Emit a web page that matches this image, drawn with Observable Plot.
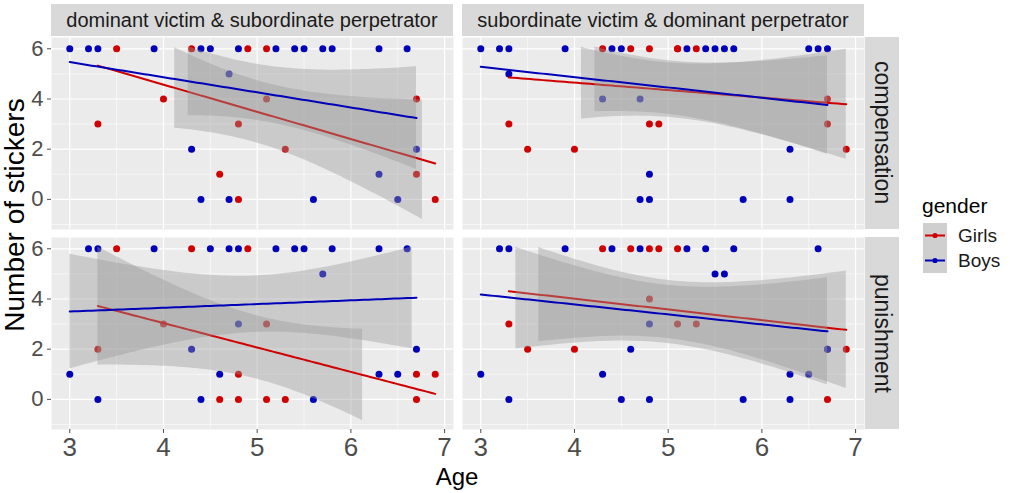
<!DOCTYPE html>
<html><head><meta charset="utf-8">
<script src="https://cdn.jsdelivr.net/npm/d3@7"></script>
<script src="https://cdn.jsdelivr.net/npm/@observablehq/plot@0.6"></script>
<style>
body{margin:0;background:#fff;font-family:"Liberation Sans",Arial,sans-serif;}
#chart{position:relative;width:1011px;height:493px;overflow:hidden;background:#fff;}
.strip{position:absolute;background:#D9D9D9;color:#1A1A1A;display:flex;align-items:center;justify-content:center;white-space:nowrap;}
.vstrip{writing-mode:vertical-rl;}
.title{position:absolute;white-space:nowrap;color:#000;transform:translate(-50%,-50%);}
</style></head><body><div id="chart"></div>
<script>
// ---- facet labels / legend ----
const colFacets = ["dominant victim & subordinate perpetrator", "subordinate victim & dominant perpetrator"];
const rowFacets = ["compensation", "punishment"];
const genders = ["Girls", "Boys"];
const genderColors = ["#D00000", "#0000B8"];
const xTicks = [3, 4, 5, 6, 7];
const yTicks = [0, 2, 4, 6];

// ---- data (age, number of stickers) ----
// dominant victim & subordinate perpetrator / compensation
const dvCompGirlsAge = [3.5,4.3,4.9,5.1,4.0,5.1,6.7,3.3,4.8,5.3,4.6,6.7,4.8,6.9];
const dvCompGirlsStickers = [6,6,6,6,4,4,4,3,3,2,1,1,0,0];
const dvCompBoysAge = [3.0,3.2,3.3,3.9,4.4,4.5,4.8,5.2,5.4,5.5,5.7,5.8,6.3,6.6,4.7,4.3,6.7,6.3,4.4,4.7,5.6,6.5];
const dvCompBoysStickers = [6,6,6,6,6,6,6,6,6,6,6,6,6,6,5,2,2,1,0,0,0,0];
// subordinate victim & dominant perpetrator / compensation
const svCompGirlsAge = [4.3,4.6,4.8,5.1,5.1,5.3,6.7,3.3,4.8,4.9,6.7,3.5,4.0,6.9];
const svCompGirlsStickers = [6,6,6,6,6,6,4,3,3,3,3,2,2,2];
const svCompBoysAge = [3.0,3.2,3.3,3.9,4.4,4.5,5.2,5.4,5.5,5.6,5.7,6.5,6.6,6.7,3.3,4.3,4.7,6.3,4.8,4.7,4.8,5.8,6.3];
const svCompBoysStickers = [6,6,6,6,6,6,6,6,6,6,6,6,6,6,5,4,4,2,1,0,0,0,0];
// dominant victim & subordinate perpetrator / punishment
const dvPunGirlsAge = [3.5,4.3,4.9,4.0,5.1,3.3,4.8,6.7,6.9,4.6,4.8,5.1,5.3,6.7];
const dvPunGirlsStickers = [6,6,6,3,3,2,1,1,1,0,0,0,0,0];
const dvPunBoysAge = [3.2,3.3,3.9,4.5,4.7,4.8,5.2,5.4,5.5,5.8,6.3,6.6,5.7,4.8,4.3,6.7,3.0,4.6,6.3,6.5,3.3,4.4,5.6];
const dvPunBoysStickers = [6,6,6,6,6,6,6,6,6,6,6,6,5,3,2,2,1,1,1,1,0,0,0];
// subordinate victim & dominant perpetrator / punishment
const svPunGirlsAge = [4.3,4.6,4.8,4.9,5.1,4.8,3.3,5.1,5.3,3.5,4.0,6.7,6.9,6.7];
const svPunGirlsStickers = [6,6,6,6,6,4,3,3,3,2,2,2,2,0];
const svPunBoysAge = [3.2,3.3,3.9,4.4,4.7,5.2,5.4,5.7,6.6,5.5,5.6,4.8,4.6,3.0,4.3,6.3,6.5,6.7,3.3,4.5,4.8,5.8,6.3];
const svPunBoysStickers = [6,6,6,6,6,6,6,6,6,5,5,3,2,1,1,1,1,2,0,0,0,0,0];

// ---- fitted lines as drawn (value at youngest and oldest age of each group) ----
const dvCompGirlsFit = [5.33, 1.43];
const dvCompBoysFit  = [5.47, 3.24];
const svCompGirlsFit = [4.86, 3.79];
const svCompBoysFit  = [5.28, 3.76];
const dvPunGirlsFit  = [3.72, 0.22];
const dvPunBoysFit   = [3.50, 4.05];
const svPunGirlsFit  = [4.31, 2.77];
const svPunBoysFit   = [4.18, 2.71];

const panelData = [
  {row:0, col:0, girls:[dvCompGirlsAge, dvCompGirlsStickers, dvCompGirlsFit], boys:[dvCompBoysAge, dvCompBoysStickers, dvCompBoysFit]},
  {row:0, col:1, girls:[svCompGirlsAge, svCompGirlsStickers, svCompGirlsFit], boys:[svCompBoysAge, svCompBoysStickers, svCompBoysFit]},
  {row:1, col:0, girls:[dvPunGirlsAge, dvPunGirlsStickers, dvPunGirlsFit], boys:[dvPunBoysAge, dvPunBoysStickers, dvPunBoysFit]},
  {row:1, col:1, girls:[svPunGirlsAge, svPunGirlsStickers, svPunGirlsFit], boys:[svPunBoysAge, svPunBoysStickers, svPunBoysFit]}
];

// ---- layout ----
const PX = [51, 462], PW = 402, PY = [37, 237], PH = 192;
const ML = 60, MB = 60;
const xDomain = [2.805, 7.095], yDomain = [-1.2, 6.45];
const HI = 6.1, LO = -0.85; // ribbon rows outside the y limits are dropped

function qt975(df) {
  const z = 1.959964, z3 = z**3, z5 = z**5, z7 = z**7;
  return z + (z3 + z) / (4*df) + (5*z5 + 16*z3 + 3*z) / (96*df*df)
    + (3*z7 + 19*z5 + 17*z3 - 15*z) / (384*df**3);
}
// straight fitted line with its 95% confidence ribbon (standard error from the points around that line)
function smooth(ages, vals, fit, gender) {
  const n = ages.length, mx = d3.mean(ages);
  const [x0, x1] = d3.extent(ages);
  const slope = (fit[1] - fit[0]) / (x1 - x0);
  const line = x => fit[0] + slope * (x - x0);
  let sxx = 0, sse = 0;
  for (let i = 0; i < n; i++) { sxx += (ages[i]-mx)**2; sse += (vals[i] - line(ages[i]))**2; }
  const s = Math.sqrt(sse / (n-2)), t = qt975(n-2);
  return d3.range(80).map(i => {
    const x = x0 + (x1-x0)*i/79, y = line(x);
    const se = s*Math.sqrt(1/n + (x-mx)**2/sxx);
    let lo = y - t*se, hi = y + t*se;
    if (hi > HI || lo < LO) { lo = NaN; hi = NaN; }
    return {x, y, lo, hi, gender};
  });
}

const chart = document.getElementById("chart");

for (const p of panelData) {
  const pts = [];
  genders.forEach((g, gi) => {
    const [ages, vals] = gi === 0 ? p.girls : p.boys;
    ages.forEach((a, i) => pts.push({age: a, stickers: vals[i], gender: g}));
  });
  const fits = genders.map((g, gi) => {
    const [ages, vals, fit] = gi === 0 ? p.girls : p.boys;
    return smooth(ages, vals, fit, g);
  });
  const left = p.col === 0, bottom = p.row === 1;
  const marks = [
    Plot.frame({fill: "#EBEBEB", stroke: "none"}),
    Plot.ruleX([3.5, 4.5, 5.5, 6.5], {stroke: "#fff", strokeWidth: 0.6}),
    Plot.ruleY([-1, 1, 3, 5], {stroke: "#fff", strokeWidth: 0.6}),
    Plot.ruleX(xTicks, {stroke: "#fff", strokeWidth: 1.2}),
    Plot.ruleY(yTicks, {stroke: "#fff", strokeWidth: 1.2}),
    Plot.dot(pts, {x: "age", y: "stickers", fill: "gender", r: 3.5, stroke: "none"})
  ];
  fits.forEach(f => {
    marks.push(Plot.areaY(f, {x: "x", y1: "lo", y2: "hi", fill: "#999999", fillOpacity: 0.4}));
    marks.push(Plot.line(f, {x: "x", y: "y", stroke: "gender", strokeWidth: 2}));
  });
  if (left) marks.push(Plot.axisY(yTicks, {tickSize: 4, tickPadding: 4, fontSize: 22, label: null}));
  if (bottom) marks.push(Plot.axisX(xTicks, {tickSize: 4, tickPadding: 4, fontSize: 26, label: null}));
  const svg = Plot.plot({
    width: PW + ML, height: PH + MB,
    marginLeft: ML, marginBottom: MB, marginTop: 0, marginRight: 0,
    x: {domain: xDomain, ...(bottom ? {} : {axis: null})},
    y: {domain: yDomain, ...(left ? {} : {axis: null})},
    color: {domain: genders, range: genderColors},
    style: {background: "transparent", overflow: "visible", fontFamily: "Liberation Sans, Arial, sans-serif", color: "#4D4D4D"},
    marks
  });
  svg.style.position = "absolute";
  svg.style.left = (PX[p.col] - ML) + "px";
  svg.style.top = PY[p.row] + "px";
  svg.style.maxWidth = "none";
  chart.appendChild(svg);
}

// column strips
colFacets.forEach((t, i) => {
  const d = document.createElement("div");
  d.className = "strip";
  Object.assign(d.style, {left: PX[i]+"px", top: "4px", width: PW+"px", height: "32px", fontSize: "20px"});
  d.textContent = t;
  chart.appendChild(d);
});
// row strips
rowFacets.forEach((t, i) => {
  const d = document.createElement("div");
  d.className = "strip";
  Object.assign(d.style, {left: "865px", top: PY[i]+"px", width: "34px", height: PH+"px", fontSize: "23px"});
  const s = document.createElement("span");
  s.className = "vstrip";
  s.textContent = t;
  d.appendChild(s);
  chart.appendChild(d);
});
// axis titles
function title(text, x, y, size, rot) {
  const d = document.createElement("div");
  d.className = "title";
  Object.assign(d.style, {left: x+"px", top: y+"px", fontSize: size+"px"});
  if (rot) d.style.transform = "translate(-50%,-50%) rotate(-90deg)";
  d.textContent = text;
  chart.appendChild(d);
}
title("Age", 457, 477, 24, false);
title("Number of stickers", 15, 215, 28, true);

// legend
const leg = d3.create("svg").attr("width", 100).attr("height", 100)
  .style("position", "absolute").style("left", "915px").style("top", "190px")
  .style("font-family", "Liberation Sans, Arial, sans-serif");
leg.append("text").attr("x", 7).attr("y", 23).attr("font-size", 21).attr("fill", "#000").text("gender");
genders.forEach((g, i) => {
  const y0 = 33 + i*25;
  leg.append("rect").attr("x", 8).attr("y", y0).attr("width", 24).attr("height", 25).attr("fill", "#CFCFCF");
  leg.append("line").attr("x1", 10).attr("x2", 30).attr("y1", y0+12.5).attr("y2", y0+12.5)
    .attr("stroke", genderColors[i]).attr("stroke-width", 2);
  leg.append("circle").attr("cx", 20).attr("cy", y0+12.5).attr("r", 2.6).attr("fill", genderColors[i]);
  leg.append("text").attr("x", 43).attr("y", y0+19).attr("font-size", 19).attr("fill", "#1A1A1A").text(g);
});
chart.appendChild(leg.node());
</script></body></html>
